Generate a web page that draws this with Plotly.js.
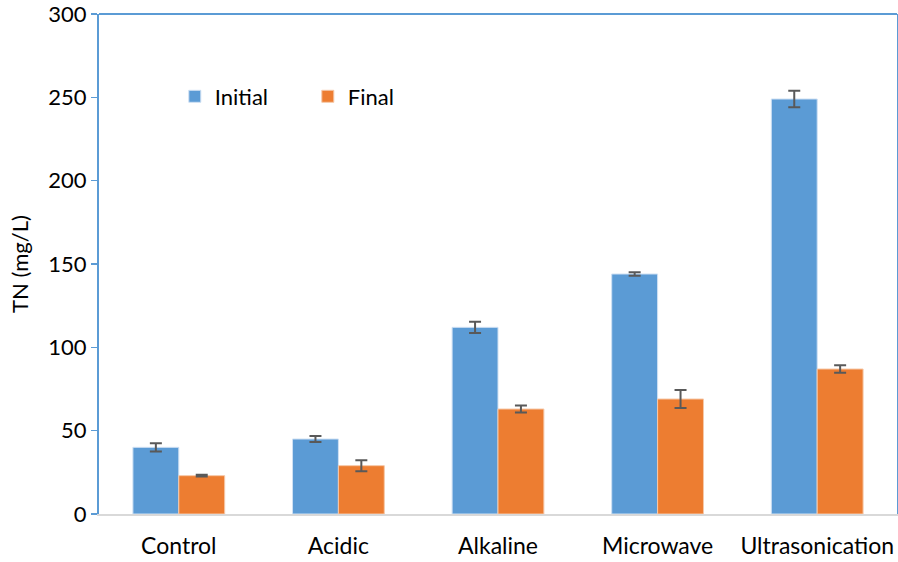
<!DOCTYPE html>
<html>
<head>
<meta charset="utf-8">
<script src="https://cdn.plot.ly/plotly-3.0.1.min.js"></script>
<style>html,body{margin:0;padding:0;background:#fff;}#chart{width:898px;height:562px;}</style>
</head>
<body>
<div id="chart"></div>
<script>
const categories = ["Control", "Acidic", "Alkaline", "Microwave", "Ultrasonication"];
const initialValues = [40, 45, 112, 144, 249];
const initialErrors = [2.5, 1.8, 3.4, 1, 5];
const finalValues = [23, 29, 63, 69, 87];
const finalErrors = [0.5, 3.3, 2.1, 5.4, 2.3];
const yTicks = [0, 50, 100, 150, 200, 250, 300];

const FONT = "Lato, 'Open Sans', sans-serif";
const errStyle = {type: "data", visible: true, color: "#595959", thickness: 2, width: 6};

const traces = [
  {type: "bar", name: "Initial", x: categories, y: initialValues,
   marker: {color: "#5b9bd5", line: {color: "#cfe0f3", width: 1}},
   error_y: Object.assign({array: initialErrors}, errStyle)},
  {type: "bar", name: "Final", x: categories, y: finalValues,
   marker: {color: "#ed7d31", line: {color: "#f6c8a8", width: 1}},
   error_y: Object.assign({array: finalErrors}, errStyle)}
];

const layout = {
  width: 898, height: 562,
  margin: {l: 99, r: 1, t: 14, b: 48},
  paper_bgcolor: "#fff", plot_bgcolor: "#fff",
  font: {family: FONT, size: 22, color: "#000"},
  barmode: "group", bargap: 0.425, bargroupgap: 0,
  showlegend: true,
  legend: {orientation: "h", x: 0.095, y: 0.835, xanchor: "left", yanchor: "middle",
           font: {family: FONT, size: 22, color: "#000"}, itemwidth: 30, traceorder: "normal",
           entrywidth: 88, entrywidthmode: "pixels",
           bgcolor: "rgba(0,0,0,0)"},
  xaxis: {showline: true, linecolor: "#d9d9d9", linewidth: 2, ticks: "outside", ticklen: 10,
          tickcolor: "rgba(0,0,0,0)", showgrid: false,
          zeroline: false, tickfont: {family: FONT, size: 23}, automargin: false},
  yaxis: {range: [0, 300], tickvals: yTicks, ticktext: yTicks.map(String), showgrid: false, zeroline: false,
          showline: true, linecolor: "#5b9bd5", linewidth: 2, mirror: true,
          ticks: "outside", ticklen: 6, tickcolor: "#5b9bd5", tickwidth: 1.5,
          tickfont: {family: FONT, size: 22}, ticklabeloverflow: "allow",
          title: {text: "TN (mg/L)", font: {family: FONT, size: 22}, standoff: 14}, automargin: false},
  shapes: [{type: "line", xref: "paper", yref: "paper", x0: 0, x1: 1, y0: 1, y1: 1,
            line: {color: "#5b9bd5", width: 2}}]
};

Plotly.newPlot("chart", traces, layout, {displayModeBar: false, staticPlot: true});
</script>
</body>
</html>
